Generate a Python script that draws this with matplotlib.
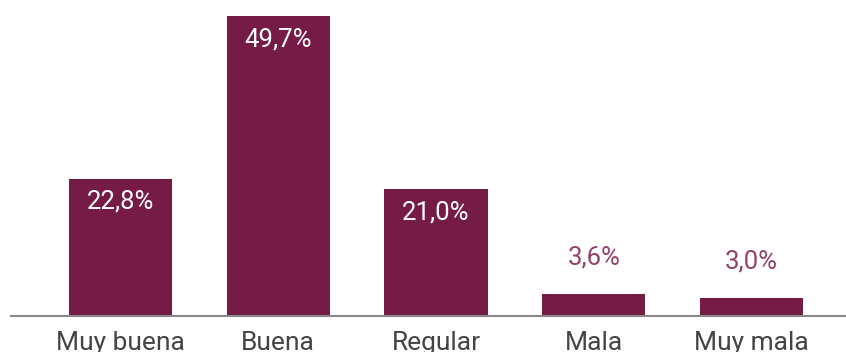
import matplotlib.pyplot as plt

categorias = ["Muy buena", "Buena", "Regular", "Mala", "Muy mala"]
porcentajes = [22.8, 49.7, 21.0, 3.6, 3.0]
etiquetas = ["22,8%", "49,7%", "21,0%", "3,6%", "3,0%"]

color_barra = "#761A46"
color_texto_fuera = "#94416B"

plt.rcParams["font.family"] = ["Roboto", "DejaVu Sans"]

fig = plt.figure(figsize=(8.46, 3.52), dpi=100)
ax = fig.add_axes([11 / 846, 36 / 352, 835 / 846, 316 / 352])

x = range(len(categorias))
ax.bar(x, porcentajes, width=0.653, color=color_barra)

ax.set_xlim(-0.694, 4.599)
ax.set_ylim(0, 52.4)

# etiquetas de valor: dentro de la barra si es alta, encima si es baja
for i, (v, txt) in enumerate(zip(porcentajes, etiquetas)):
    if v > 10:
        ax.annotate(txt, xy=(i, v), xytext=(0, -21.5), textcoords="offset points",
                    ha="center", va="baseline", color="white", fontsize=18.5)
    else:
        ax.annotate(txt, xy=(i, v), xytext=(0, 21.5), textcoords="offset points",
                    ha="center", va="baseline", color=color_texto_fuera, fontsize=18.5)

# nombres de las categorías bajo la línea base
for i, cat in enumerate(categorias):
    ax.annotate(cat, xy=(i, 0), xycoords=("data", "axes fraction"),
                xytext=(0, -24.5), textcoords="offset points",
                ha="center", va="baseline", color="#444444", fontsize=19)

for lado in ["top", "right", "left"]:
    ax.spines[lado].set_visible(False)
ax.spines["bottom"].set_color("#888888")
ax.spines["bottom"].set_linewidth(1.5)
ax.set_xticks([])
ax.set_yticks([])

fig.savefig("out.png", dpi=100)
